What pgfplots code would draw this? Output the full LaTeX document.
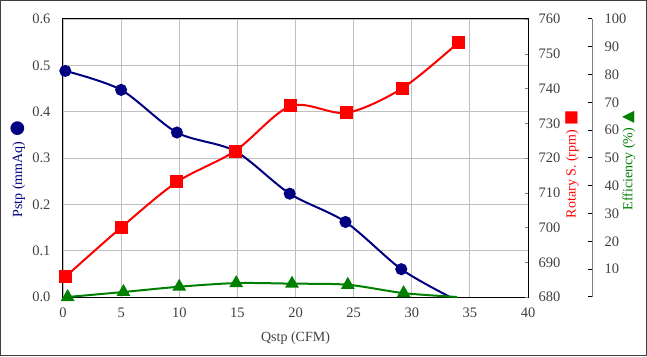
\documentclass[border=0pt]{standalone}
\usepackage{pgfplots}
\pgfplotsset{compat=1.18}
\usepackage{fontspec}
\setmainfont{Liberation Serif}
\newfontfamily\symfont{DejaVu Sans}
\definecolor{navyc}{RGB}{0,0,128}
\definecolor{redc}{RGB}{255,0,0}
\definecolor{greenc}{RGB}{0,128,0}
\definecolor{tickc}{RGB}{64,64,64}
\definecolor{gridc}{RGB}{191,191,191}
\begin{document}
\begin{tikzpicture}
\path[use as bounding box] (0,0) rectangle (647pt,356pt);
\draw[tickc, line width=1pt] (0.5pt,0.5pt) rectangle (646.5pt,355.5pt);
\pgfplotsset{
  common/.style={scale only axis, width=465pt, height=278pt,
    at={(63pt,59pt)}, anchor=south west, xmin=0, xmax=40, clip=false,
    tick label style={font=\fontsize{14.5}{14.5}\selectfont, text=tickc},
    /pgf/number format/assume math mode=true,
    label style={font=\fontsize{14}{14}\selectfont},
    axis line style={-},
  }
}
% main axis: Pstp
\begin{axis}[common, ymin=0, ymax=0.6, ytick={0,0.1,...,0.6},
  xtick={0,5,...,40}, grid=major, grid style={gridc, line width=0.8pt},
  axis line style={black, line width=1pt}, major tick length=0pt,
  yticklabel style={/pgf/number format/.cd, fixed, fixed zerofill, precision=1},
  yticklabel shift=9pt, xticklabel shift=7pt,
  xlabel={Qstp (CFM)},
  xlabel style={at={(axis description cs:0.5,-0.1475)}, anchor=center, text=tickc},
  ylabel={Pstp (mmAq)\hspace{5pt}{\symfont\fontsize{18}{18}\selectfont ●}},
  ylabel style={at={(axis description cs:-0.097,0.46)}, anchor=center, text=navyc},
]
\addplot[navyc, line width=2pt, smooth, mark=*, mark size=5pt,
  mark indices={1,2,3,4,5,6,7}] coordinates {
  (0.2,0.488) (5.0,0.447) (9.8,0.355) (14.8,0.315) (19.5,0.223) (24.3,0.162) (29.1,0.060) (33.3,0.0)
};
\end{axis}
% rpm axis
\begin{axis}[common, axis x line=none, axis y line*=right,
  ymin=680, ymax=760, ytick={680,690,...,760},
  y axis line style={black, line width=1pt}, major tick length=3.5pt,
  yticklabel shift=7pt,
  ylabel={Rotary S. (rpm)\hspace{4pt}{\symfont\fontsize{16}{16}\selectfont ■}},
  ylabel style={at={(axis description cs:1.0946,0.477)}, anchor=center, rotate=0, text=redc},
]
\addplot[redc, line width=2pt, smooth, mark=square*, mark size=5.5pt] coordinates {
  (0.2,685.8) (5.0,700.0) (9.8,713.1) (14.8,722.0) (19.6,735.0) (24.4,733.0) (29.2,740.1) (34.0,753.2)
};
\end{axis}
% efficiency plot
\begin{axis}[common, hide axis, ymin=0, ymax=100]
\addplot[greenc, line width=2pt, smooth, mark=triangle*, mark size=6pt,
  mark indices={1,2,3,4,5,6,7}] coordinates {
  (0.4,0) (5.2,1.8) (10.0,3.7) (14.9,5.0) (19.7,4.8) (24.5,4.4) (29.3,1.4) (33.9,0)
};
\end{axis}
% efficiency axis
\begin{axis}[common, at={(127pt,59pt)}, axis x line=none, axis y line*=right,
  ymin=0, ymax=100, ytick={0,10,...,100},
  yticklabels={,10,20,30,40,50,60,70,80,90,100},
  y axis line style={gray, line width=1pt}, major tick length=4pt,
  every tick/.style={black, line width=1pt},
  yticklabel shift=9pt,
  ylabel={Efficiency (\%)\hspace{4pt}{\symfont\fontsize{16}{16}\selectfont ▲}},
  ylabel style={at={(axis description cs:1.079,0.489)}, anchor=center, rotate=0, text=greenc},
]
\end{axis}
\end{tikzpicture}
\end{document}
